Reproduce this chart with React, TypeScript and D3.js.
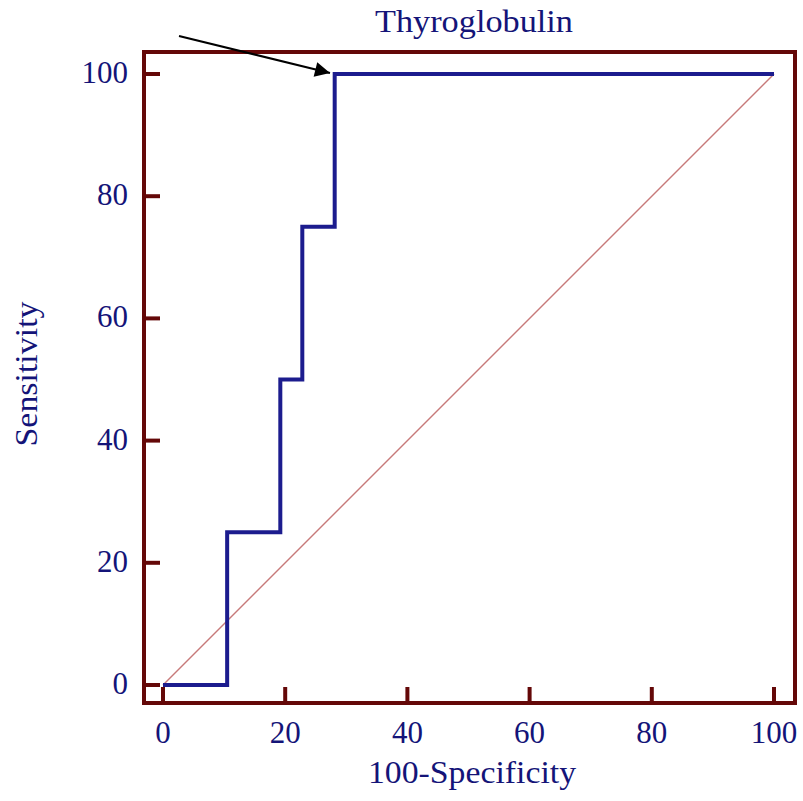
import React from "react";
import * as d3 from "d3";

const fpr = [0, 10.5, 19.2, 22.8, 28.1, 100];
const tpr = [0, 25, 50, 75, 100, 100];
const xTicks = [0, 20, 40, 60, 80, 100];
const yTicks = [0, 20, 40, 60, 80, 100];
const title = "Thyroglobulin";
const xLabel = "100-Specificity";
const yLabel = "Sensitivity";

const W = 803;
const H = 801;
const frame = { x0: 144, y0: 52, x1: 795, y1: 703 };
const FRAME = "#640808";
const NAVY = "#1c1c8e";
const TEXT = "#141478";
const FONT = "'Liberation Serif', 'DejaVu Serif', serif";

export default function App() {
  const x = d3.scaleLinear().domain([0, 100]).range([163, 774]);
  const y = d3.scaleLinear().domain([0, 100]).range([685, 74]);
  const pts: [number, number][] = fpr.map((f, i) => [f, tpr[i]]);
  const roc = d3
    .line<[number, number]>()
    .x((d) => x(d[0]))
    .y((d) => y(d[1]))
    .curve(d3.curveStepAfter)(pts);

  return (
    <svg
      width={W}
      height={H}
      style={{ position: "absolute", left: 0, top: 0, background: "#fff" }}
    >
      <defs>
        <marker
          id="ah"
          viewBox="0 0 10 10"
          refX="10"
          refY="5"
          markerWidth="11"
          markerHeight="7.5"
          markerUnits="strokeWidth"
          orient="auto"
        >
          <path d="M0,0 L10,5 L0,10 Z" fill="#000" />
        </marker>
      </defs>
      {/* diagonal */}
      <line
        x1={x(0)}
        y1={y(0)}
        x2={x(100)}
        y2={y(100)}
        stroke="#c77a7a"
        strokeWidth={1.4}
      />
      {/* ROC curve */}
      <path d={roc || ""} fill="none" stroke={NAVY} strokeWidth={4} strokeLinejoin="miter" />
      {/* frame */}
      <rect
        x={frame.x0}
        y={frame.y0}
        width={frame.x1 - frame.x0}
        height={frame.y1 - frame.y0}
        fill="none"
        stroke={FRAME}
        strokeWidth={4}
      />
      {/* y ticks */}
      {yTicks.map((t) => (
        <g key={"y" + t}>
          <line x1={frame.x0} x2={frame.x0 + 16} y1={y(t)} y2={y(t)} stroke={FRAME} strokeWidth={4} />
          <text
            x={128}
            y={y(t) + 9}
            textAnchor="end"
            fontFamily={FONT}
            fontSize={31}
            fill={TEXT}
          >
            {t}
          </text>
        </g>
      ))}
      {/* x ticks */}
      {xTicks.map((t) => (
        <g key={"x" + t}>
          <line x1={x(t)} x2={x(t)} y1={frame.y1} y2={frame.y1 - 16} stroke={FRAME} strokeWidth={4} />
          <text
            x={x(t)}
            y={743}
            textAnchor="middle"
            fontFamily={FONT}
            fontSize={31}
            fill={TEXT}
          >
            {t}
          </text>
        </g>
      ))}
      {/* titles */}
      <text
        x={474}
        y={32}
        textAnchor="middle"
        fontFamily={FONT}
        fontSize={32}
        fill={TEXT}
        textLength={198}
        lengthAdjust="spacingAndGlyphs"
      >
        {title}
      </text>
      <text
        x={472}
        y={783}
        textAnchor="middle"
        fontFamily={FONT}
        fontSize={32}
        fill={TEXT}
        textLength={208}
        lengthAdjust="spacingAndGlyphs"
      >
        {xLabel}
      </text>
      <text
        transform={`translate(37,374) rotate(-90)`}
        textAnchor="middle"
        fontFamily={FONT}
        fontSize={31}
        fill={TEXT}
        textLength={145}
        lengthAdjust="spacingAndGlyphs"
      >
        {yLabel}
      </text>
      {/* arrow */}
      <line
        x1={179}
        y1={36}
        x2={330}
        y2={73}
        stroke="#000"
        strokeWidth={2}
        markerEnd="url(#ah)"
      />
    </svg>
  );
}
